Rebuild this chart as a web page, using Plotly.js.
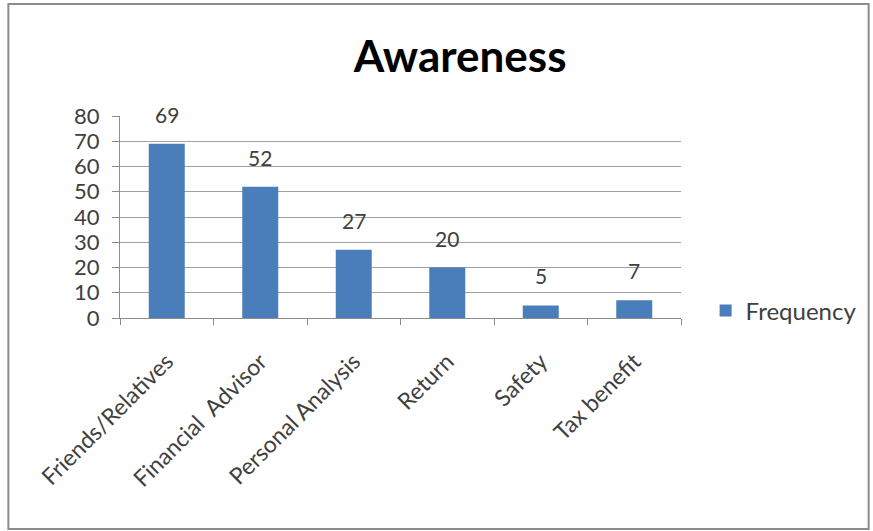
<!DOCTYPE html>
<html>
<head>
<meta charset="utf-8">
<script src="https://cdn.plot.ly/plotly-3.0.1.min.js"></script>
<style>
  html, body { margin: 0; padding: 0; background: #fff; }
  #chart { width: 873px; height: 531px; }
</style>
</head>
<body>
<div id="chart"></div>
<script>
// Sources of awareness and how often each was named
const categories = ['Friends/Relatives', 'Financial  Advisor', 'Personal Analysis', 'Return', 'Safety', 'Tax benefit'];
const frequency = [69, 52, 27, 20, 5, 7];
const yTicks = [0, 10, 20, 30, 40, 50, 60, 70, 80];

const textColor = '#404040';
const font = 'Lato, "Open Sans", "Liberation Sans", sans-serif';

const trace = {
  type: 'bar',
  name: 'Frequency',
  x: categories,
  y: frequency,
  marker: { color: '#4a7ebb' },
  showlegend: true
};

// value labels sit a little above each bar
const valueLabels = categories.map((c, i) => ({
  x: c,
  y: frequency[i],
  xref: 'x', yref: 'y',
  text: String(frequency[i]),
  showarrow: false,
  yanchor: 'bottom',
  yshift: 15,
  font: { family: font, size: 21, color: textColor }
}));

const layout = {
  width: 873,
  height: 531,
  margin: { l: 120, r: 191, t: 116, b: 213 },
  paper_bgcolor: '#ffffff',
  plot_bgcolor: '#ffffff',
  bargap: 0.615,
  font: { family: font, color: textColor },
  title: {
    text: '<b>Awareness</b>',
    font: { family: font, size: 44, color: '#000000' },
    x: 0.527, xanchor: 'center',
    y: 0.893, yanchor: 'middle'
  },
  xaxis: {
    type: 'category',
    tickangle: -45,
    tickson: 'boundaries',
    ticks: 'outside',
    ticklen: 6,
    tickcolor: '#8c8c8c',
    ticklabelstandoff: 20,
    showline: true,
    linecolor: '#8c8c8c',
    linewidth: 1,
    showgrid: false,
    tickfont: { family: font, size: 23, color: textColor },
    fixedrange: true
  },
  yaxis: {
    range: [0, 80],
    tickvals: yTicks,
    ticktext: yTicks.map(String),
    ticks: 'outside',
    ticklen: 7,
    tickcolor: '#8c8c8c',
    ticklabelstandoff: 8,
    showline: true,
    linecolor: '#8c8c8c',
    linewidth: 1,
    showgrid: true,
    gridcolor: '#a0a0a0',
    gridwidth: 1,
    zeroline: false,
    tickfont: { family: font, size: 22, color: textColor },
    fixedrange: true
  },
  legend: {
    x: 1.042, xanchor: 'left',
    y: 0.035, yanchor: 'middle',
    font: { family: font, size: 24, color: textColor },
    bgcolor: 'rgba(0,0,0,0)'
  },
  annotations: valueLabels,
  shapes: [{
    type: 'rect',
    xref: 'paper', yref: 'paper',
    x0: -0.199, x1: 1.3345,
    y0: -1.045, y1: 1.554,
    line: { color: '#8c8c8c', width: 2 },
    fillcolor: 'rgba(0,0,0,0)'
  }]
};

Plotly.newPlot('chart', [trace], layout, { displayModeBar: false, staticPlot: true });
</script>
</body>
</html>
